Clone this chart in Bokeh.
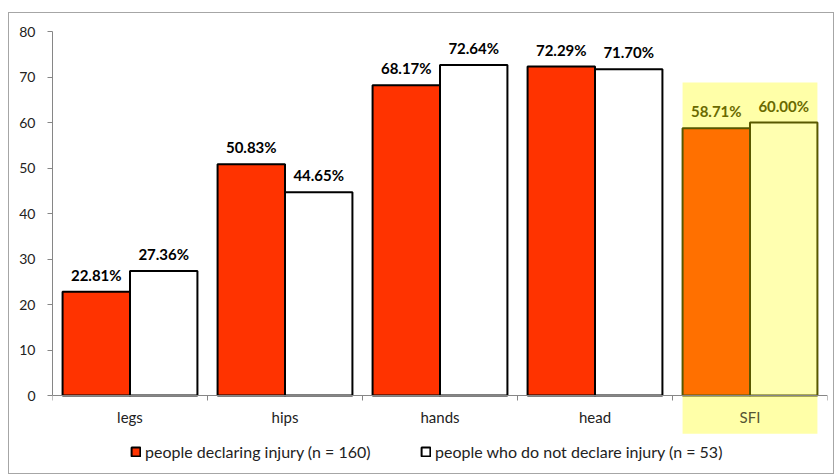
from bokeh.plotting import figure
from bokeh.models import (ColumnDataSource, LinearAxis, FixedTicker, Range1d,
                          Legend, LegendItem)
from bokeh.core.properties import value
from bokeh.embed import file_html
from bokeh.resources import INLINE

# ---- data ----
categories = ["legs", "hips", "hands", "head", "SFI"]
declaring = [22.81, 50.83, 68.17, 72.29, 58.71]
not_declaring = [27.36, 44.65, 72.64, 71.70, 60.00]
y_ticks = [0, 10, 20, 30, 40, 50, 60, 70, 80]
series_labels = ["people declaring injury (n = 160)",
                 "people who do not declare injury (n = 53)"]
highlight = "SFI"

# ---- styling ----
FONT = "Lato"
BAR_W = 0.435
AXIS_GRAY = "#868686"
RED = "#FF3300"
ORANGE = "#FF7000"
PALE = "#FFFFB0"
HL_BG = "#FFFFA8"
OLIVE_LINE = "#585800"
OLIVE_TEXT = "#6A6A00"

n = len(categories)
centers = [i + 0.5 for i in range(n)]
is_hl = [c == highlight for c in categories]
hl = categories.index(highlight)

src_a = ColumnDataSource(dict(
    x=[c - BAR_W / 2 for c in centers], top=declaring,
    fill=[ORANGE if h else RED for h in is_hl],
    line=[OLIVE_LINE if h else "#000000" for h in is_hl],
    lab=[f"{v:.2f}%" for v in declaring],
    tc=[OLIVE_TEXT if h else "#000000" for h in is_hl]))
src_b = ColumnDataSource(dict(
    x=[c + BAR_W / 2 for c in centers], top=not_declaring,
    fill=[PALE if h else "#FFFFFF" for h in is_hl],
    line=[OLIVE_LINE if h else "#000000" for h in is_hl],
    lab=[f"{v:.2f}%" for v in not_declaring],
    tc=[OLIVE_TEXT if h else "#000000" for h in is_hl]))

p = figure(width=826, height=462,
           x_range=Range1d(0, n), y_range=Range1d(-17.58, 80),
           output_backend="svg", toolbar_location=None,
           x_axis_location=None, y_axis_location=None,
           min_border_left=43, min_border_right=8,
           min_border_top=18, min_border_bottom=0)
p.margin = (12, 0, 0, 8)
p.styles = {"border": "1px solid #A6A6A6"}
p.xgrid.visible = False
p.ygrid.visible = False
p.outline_line_color = None

# highlight box behind the SFI column (extends under its axis label)
top_hl = max(declaring[hl], not_declaring[hl]) + 8.8
p.quad(left=[centers[hl] - BAR_W], right=[centers[hl] + BAR_W],
       bottom=[-8.4], top=[top_hl], fill_color=HL_BG, line_color=None,
       level="underlay")

ra = p.vbar(x="x", top="top", bottom=0, width=BAR_W, source=src_a,
            fill_color="fill", line_color="line", line_width=2)
rb = p.vbar(x="x", top="top", bottom=0, width=BAR_W, source=src_b,
            fill_color="fill", line_color="line", line_width=2)

for src in (src_a, src_b):
    p.text(x="x", y="top", text="lab", source=src, text_color="tc",
           text_font=value(FONT), text_font_size="15px",
           text_font_style="bold", text_align="center",
           text_baseline="alphabetic", y_offset=-17)

# y axis
yax = LinearAxis(ticker=FixedTicker(ticks=y_ticks), bounds=(0, 80))
yax.axis_line_color = AXIS_GRAY
yax.major_tick_line_color = AXIS_GRAY
yax.major_tick_out = 5
yax.major_tick_in = 0
yax.minor_tick_line_color = None
yax.major_label_standoff = 12
yax.major_label_text_font = FONT
yax.major_label_text_font_size = "14px"
yax.major_label_text_color = "#222222"
p.add_layout(yax, "left")

# x axis line with ticks at the category boundaries
bounds = list(range(n + 1))
xax = LinearAxis(ticker=FixedTicker(ticks=bounds), fixed_location=0,
                 major_label_overrides={b: "" for b in bounds})
xax.axis_line_color = AXIS_GRAY
xax.major_tick_line_color = AXIS_GRAY
xax.major_tick_out = 5
xax.major_tick_in = 0
xax.minor_tick_line_color = None
p.add_layout(xax, "below")

# category labels at the centres
def label_axis(idx, color):
    ax = LinearAxis(ticker=FixedTicker(ticks=[centers[i] for i in idx]),
                    fixed_location=0,
                    major_label_overrides={centers[i]: categories[i] for i in idx})
    ax.axis_line_color = None
    ax.major_tick_line_color = None
    ax.minor_tick_line_color = None
    ax.major_tick_out = 0
    ax.major_tick_in = 0
    ax.major_label_standoff = 12
    ax.major_label_text_font = FONT
    ax.major_label_text_font_size = "15px"
    ax.major_label_text_color = color
    p.add_layout(ax, "below")

label_axis([i for i in range(n) if not is_hl[i]], "#222222")
label_axis([hl], "#555533")

# legends
def add_legend(label, rend, loc):
    leg = Legend(items=[LegendItem(label=label, renderers=[rend], index=0)],
                 location=loc, orientation="horizontal")
    leg.padding = 0
    leg.margin = 0
    leg.border_line_color = None
    leg.background_fill_alpha = 0
    leg.label_text_font = FONT
    leg.label_text_font_size = "16px"
    leg.label_text_color = "#222222"
    leg.glyph_width = 11
    leg.glyph_height = 11
    leg.label_standoff = 4
    p.add_layout(leg, "center")

add_legend(series_labels[0], ra, (78, 14))
add_legend(series_labels[1], rb, (368, 14))

open("out.html", "w").write(file_html(p, INLINE))
